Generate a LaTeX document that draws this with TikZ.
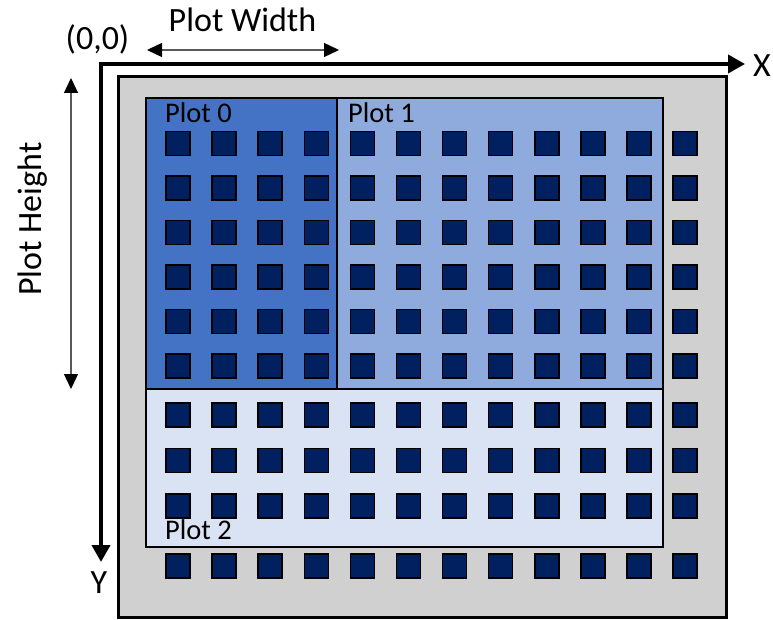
\documentclass[tikz,border=0pt]{standalone}
\usepackage{fontspec}
\setmainfont{Carlito}
\usepackage{tikz}
\usetikzlibrary{positioning,arrows.meta}

\definecolor{plotzero}{HTML}{4472C4}
\definecolor{plotone}{HTML}{8FAADC}
\definecolor{plottwo}{HTML}{DAE3F3}
\definecolor{cellblue}{HTML}{002060}
\definecolor{panelgray}{HTML}{D0D0D0}

\tikzset{
	panelbox/.style={draw=black, line width=3pt, fill=panelgray, anchor=north west, inner sep=0, outer sep=0},
	plotbox/.style={draw=black, line width=2.2pt, anchor=north west, inner sep=0, outer sep=0},
	cell/.style={draw=black, line width=1.5pt, fill=cellblue, minimum size=24pt, inner sep=0},
	plotlabel/.style={anchor=base west, inner sep=0, font=\fontsize{28.5}{32}\selectfont},
	axislabel/.style={inner sep=0, font=\fontsize{34}{40}\selectfont},
	axisline/.style={line width=4pt, {Triangle[length=17pt,width=18pt]}-{Triangle[length=17pt,width=18pt]}},
	dimarrow/.style={draw=black!65, line width=1.3pt, {Triangle[length=15pt,width=14pt,black]}-{Triangle[length=15pt,width=14pt,black]}}
}

\begin{document}
\begin{tikzpicture}[x=1pt,y=-1pt]

			\useasboundingbox (0,0) rectangle (773,620);

			%panel
			\node [panelbox, minimum width=607.5, minimum height=540] (panel) at (118.5,77) {};

			%plots
			\node [plotbox, fill=plotzero, minimum width=191, minimum height=291] (p0) at (146,98) {};
			\node [plotbox, fill=plotone, minimum width=326, minimum height=291] (p1) at (337,98) {};
			\node [plotbox, fill=plottwo, minimum width=517, minimum height=158] (p2) at (146,389) {};

			%cells
			\foreach \y [count=\r] in {143.5,188,232.5,277,321.5,366,415,460.5,506,566}
				\foreach \c in {0,...,11}
					\node [cell] (sq-\r-\c) at ({178+46.1*\c},\y) {};

			%plot labels
			\node [plotlabel] (l0) at (165,123) {Plot 0};
			\node [plotlabel] (l1) at (348,123) {Plot 1};
			\node [plotlabel] (l2) at (165,539) {Plot 2};

			%axes
			\coordinate (origin) at (101,64);
			\coordinate (xend) at (745,64);
			\coordinate (yend) at (101,562);
			\draw [axisline] (xend) -- (origin) -- (yend);
			\node [axislabel, anchor=base] (o) at (97.5,50) {(0,0)};
			\node [axislabel] (xl) at (762,66) {X};
			\node [axislabel] (yl) at (99,583) {Y};

			%plot size
			\coordinate (pw-l) at (147,50);
			\coordinate (pw-r) at (339,50);
			\coordinate (ph-t) at (71,78);
			\coordinate (ph-b) at (71,389);
			\draw [dimarrow] (pw-l) -- (pw-r);
			\draw [dimarrow] (ph-t) -- (ph-b);
			\node [axislabel, anchor=base] (pw) at (242.5,32) {Plot Width};
			\node [axislabel, rotate=90] (ph) at (33,219) {Plot Height};
		\end{tikzpicture}
\end{document}
